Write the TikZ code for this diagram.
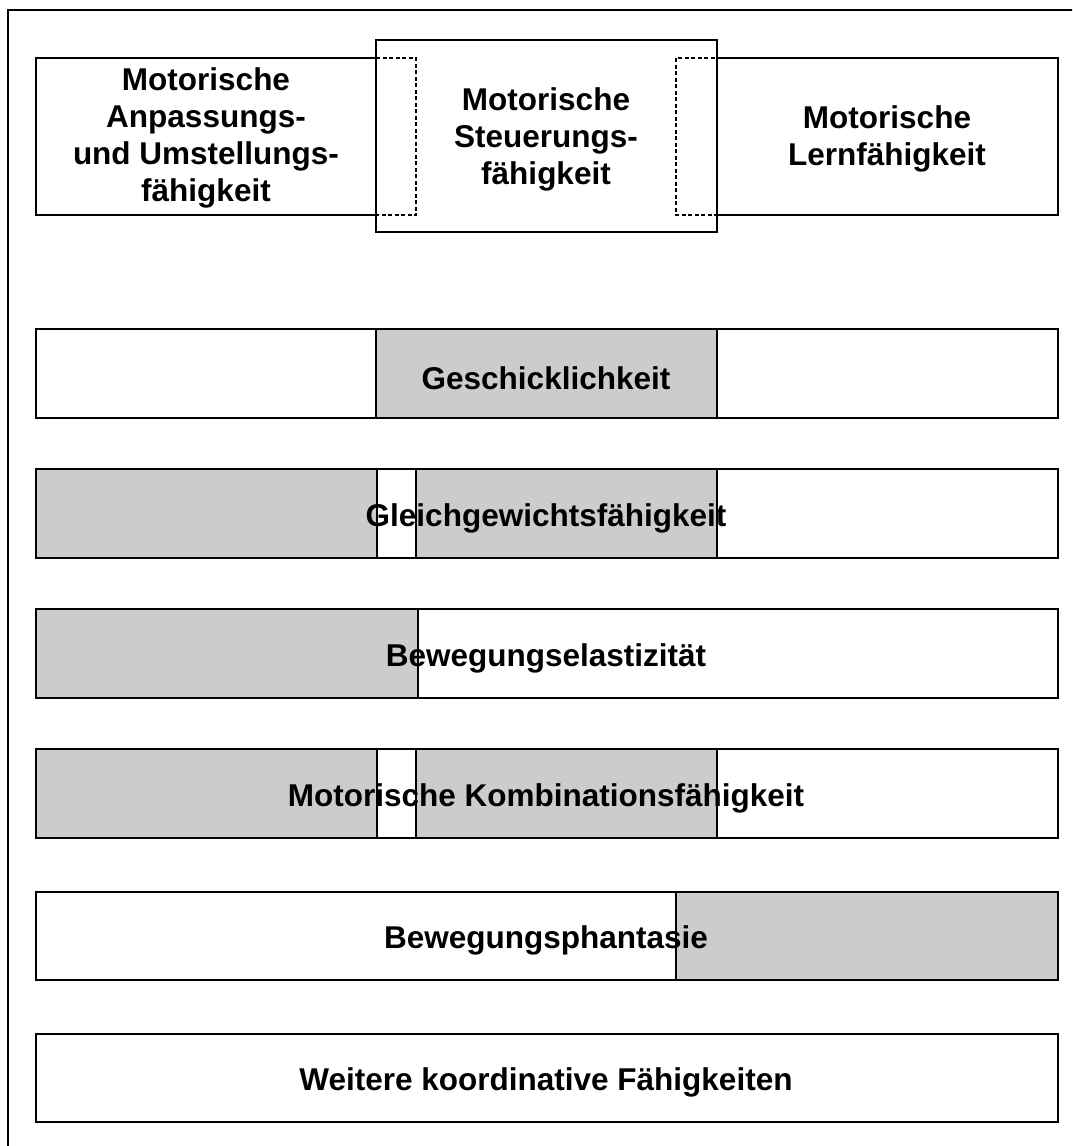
\documentclass[tikz,border=0pt]{standalone}
\usepackage{fontspec}
\setmainfont{Liberation Sans}
\begin{document}
\begin{tikzpicture}[x=1pt,y=-1pt,
  frame/.style={draw=black,line width=2pt},
  cell/.style={draw=black,line width=2pt,fill=white},
  shade/.style={draw=black,line width=2pt,fill=barGray},
  inner/.style={draw=black,line width=1.5pt,dash pattern=on 4pt off 2.5pt},
  label/.style={font=\fontsize{31.5}{37}\selectfont\bfseries,align=center,inner sep=0pt}]
\definecolor{barGray}{HTML}{CCCCCC}
\clip (0,0) rectangle (1072,1146);
\fill[white] (0,0) rectangle (1072,1146);
% outer frame (runs past the right and bottom edge)
\draw[frame] (8,10) rectangle (1110,1190);

% top row: three abilities
\draw[cell] (36,58) rectangle (376,215);
\draw[cell] (717,58) rectangle (1058,215);
\draw[cell] (376,40) rectangle (717,232);
\draw[inner] (376,58) rectangle (416,215);
\draw[inner] (676,58) rectangle (717,215);
\node[label] (anpassung) at (206,138) {Motorische\\Anpassungs-\\und Umstellungs-\\fähigkeit};
\node[label] (steuerung) at (546,139) {Motorische\\Steuerungs-\\fähigkeit};
\node[label] (lernen) at (887,139) {Motorische\\Lernfähigkeit};

% Geschicklichkeit
\draw[cell] (36,329) rectangle (1058,418);
\draw[shade] (376,329) rectangle (717,418);
\node[label] (geschick) at (546,378) {Geschicklichkeit};

% Gleichgewichtsfaehigkeit
\draw[cell] (36,469) rectangle (1058,558);
\draw[shade] (36,469) rectangle (377,558);
\draw[shade] (416,469) rectangle (717,558);
\node[label] (gleichgewicht) at (546,518) {Gleichgewichtsfähigkeit};

% Bewegungselastizitaet
\draw[cell] (36,609) rectangle (1058,698);
\draw[shade] (36,609) rectangle (418,698);
\node[label] (elastizitaet) at (546,658) {Bewegungselastizität};

% Kombinationsfaehigkeit
\draw[cell] (36,749) rectangle (1058,838);
\draw[shade] (36,749) rectangle (377,838);
\draw[shade] (416,749) rectangle (717,838);
\node[label] (kombination) at (546,798) {Motorische Kombinationsfähigkeit};

% Bewegungsphantasie
\draw[cell] (36,892) rectangle (1058,980);
\draw[shade] (676,892) rectangle (1058,980);
\node[label] (phantasie) at (546,940) {Bewegungsphantasie};

% weitere
\draw[cell] (36,1034) rectangle (1058,1122);
\node[label] (weitere) at (546,1082) {Weitere koordinative Fähigkeiten};
\end{tikzpicture}
\end{document}
